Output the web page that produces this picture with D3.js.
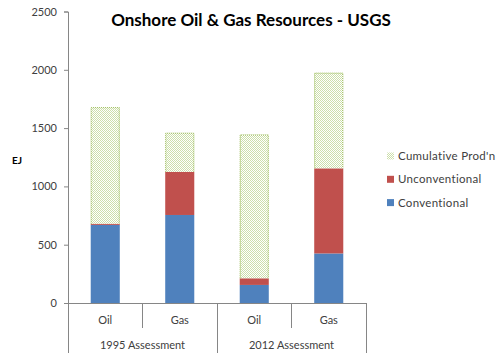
<!DOCTYPE html>
<html><head><meta charset="utf-8">
<script src="https://cdn.jsdelivr.net/npm/d3@7"></script>
<style>body{margin:0;background:#fff}svg{display:block}</style>
</head><body>
<svg id="c" width="500" height="357"></svg>
<script>
const groups = ["1995 Assessment", "1995 Assessment", "2012 Assessment", "2012 Assessment"];
const categories = ["Oil", "Gas", "Oil", "Gas"];
const groupLabels = ["1995 Assessment", "2012 Assessment"];
const conventional = [670, 755, 155, 425];
const unconventional = [10, 370, 57, 730];
const cumulative = [1000, 335, 1233, 820];
const seriesNames = ["Conventional", "Unconventional", "Cumulative Prod'n"];
const yTicks = [0, 500, 1000, 1500, 2000, 2500];

(function(){
const svg = d3.select("#c");
const font = "Lato, 'Open Sans', sans-serif";
const pLeft = 68, pRight = 366, pTop = 11.5, pBottom = 303;

const defs = svg.append("defs");
const pat = defs.append("pattern").attr("id","dots").attr("width",2).attr("height",2).attr("patternUnits","userSpaceOnUse");
pat.append("rect").attr("width",2).attr("height",2).attr("fill","#fff");
pat.append("rect").attr("x",0).attr("y",0).attr("width",1).attr("height",1).attr("fill","#cddfab");
pat.append("rect").attr("x",1).attr("y",1).attr("width",1).attr("height",1).attr("fill","#cddfab");

const idx = d3.range(categories.length);
const x = d3.scaleBand().domain(idx).range([pLeft, pRight]).paddingInner(0.61).paddingOuter(0.305);
const y = d3.scaleLinear().domain([0, 2500]).range([pBottom, pTop]);

const table = idx.map(i => ({i, Conventional: conventional[i], Unconventional: unconventional[i], "Cumulative Prod'n": cumulative[i]}));
const stack = d3.stack().keys(seriesNames)(table);
const colors = {"Conventional":"#4f81bd","Unconventional":"#c0504d","Cumulative Prod'n":"url(#dots)"};

// y axis
const ya = svg.append("g").attr("transform",`translate(${pLeft},0)`)
  .call(d3.axisLeft(y).tickValues(yTicks).tickFormat(d3.format("d")).tickSize(4).tickPadding(7));
ya.select(".domain").attr("stroke","#868686");
ya.selectAll(".tick line").attr("stroke","#868686");
ya.selectAll("text").attr("font-family",font).attr("font-size",11).attr("fill","#404040");

stack.forEach(s => {
  svg.append("g").selectAll("rect").data(s).join("rect")
    .attr("x", d => x(d.data.i))
    .attr("width", x.bandwidth())
    .attr("y", d => y(d[1]))
    .attr("height", d => y(d[0]) - y(d[1]))
    .attr("fill", colors[s.key]);
  if (s.key === "Cumulative Prod'n") {
    svg.append("g").selectAll("path").data(s).join("path")
      .attr("d", d => `M${x(d.data.i)+0.5},${y(d[0])}V${y(d[1])+0.5}H${x(d.data.i)+x.bandwidth()-0.5}V${y(d[0])}`)
      .attr("fill","none").attr("stroke","#9bbb59").attr("stroke-width",1).attr("stroke-dasharray","1,1");
  }
});

// x axis
const g = svg.append("g").attr("stroke","#868686").attr("shape-rendering","crispEdges");
g.append("line").attr("x1",pLeft).attr("x2",pRight).attr("y1",pBottom).attr("y2",pBottom);
const step = x.step();
const bnds = d3.range(categories.length + 1).map(k => pLeft + k*step);
bnds.forEach((b,k) => {
  const major = (k === 0 || k === categories.length || groups[k] !== groups[k-1]);
  g.append("line").attr("x1",b).attr("x2",b).attr("y1",pBottom).attr("y2", major ? 353 : 328);
});
svg.append("g").selectAll("text").data(idx).join("text")
  .attr("x", i => x(i) + x.bandwidth()/2).attr("y", 320).attr("dy","0.35em")
  .attr("text-anchor","middle").attr("font-family",font).attr("font-size",11).attr("fill","#404040")
  .text(i => categories[i]);
svg.append("g").selectAll("text").data(groupLabels).join("text")
  .attr("x", (d,k) => pLeft + (k*2+1)*step).attr("y", 345).attr("dy","0.35em")
  .attr("text-anchor","middle").attr("font-family",font).attr("font-size",11).attr("fill","#404040")
  .text(d => d);

// y title
svg.append("text").attr("x",17).attr("y",160).attr("dy","0.35em").attr("text-anchor","middle")
  .attr("font-family",font).attr("font-size",10).attr("font-weight","bold").attr("fill","#000").text("EJ");

// title
svg.append("text").attr("x",251).attr("y",20).attr("dy","0.35em").attr("text-anchor","middle")
  .attr("font-family",font).attr("font-size",17).attr("font-weight","bold").attr("fill","#000")
  .text("Onshore Oil & Gas Resources - USGS");

// legend
const leg = ["Cumulative Prod'n","Unconventional","Conventional"];
const lg = svg.append("g").selectAll("g").data(leg).join("g")
  .attr("transform",(d,k)=>`translate(387,${156 + k*23.3})`);
lg.append("rect").attr("x",0).attr("y",-3.5).attr("width",7).attr("height",7)
  .attr("fill", d => colors[d]);
lg.append("text").attr("x",11).attr("y",0).attr("dy","0.35em")
  .attr("font-family",font).attr("font-size",11.5).attr("fill","#404040").attr("letter-spacing","0.3").text(d=>d);
})();
</script>
</body></html>
